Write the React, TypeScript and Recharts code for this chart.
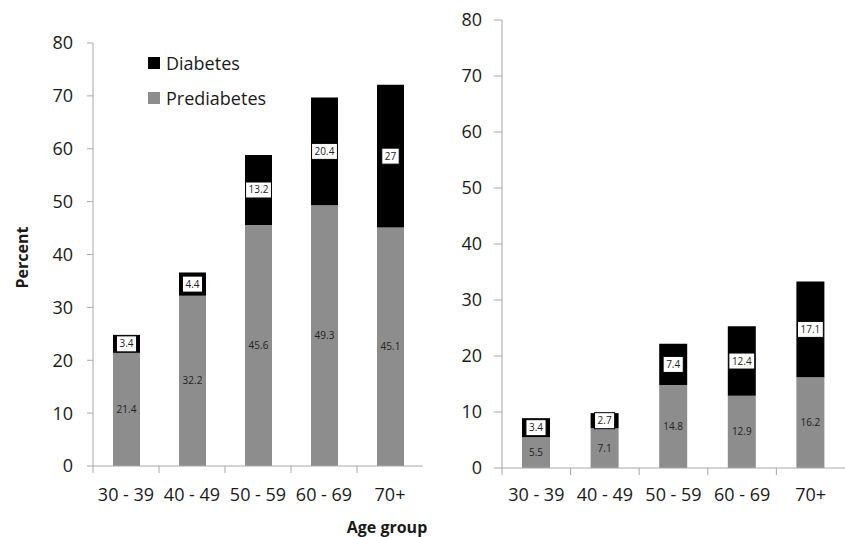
import React from 'react';
import { BarChart, Bar, XAxis, YAxis, LabelList, Legend } from 'recharts';

const ageGroups = ['30 - 39', '40 - 49', '50 - 59', '60 - 69', '70+'];
const leftPrediabetes = [21.4, 32.2, 45.6, 49.3, 45.1];
const leftDiabetes = [3.4, 4.4, 13.2, 20.4, 27];
const rightPrediabetes = [5.5, 7.1, 14.8, 12.9, 16.2];
const rightDiabetes = [3.4, 2.7, 7.4, 12.4, 17.1];
const yTicks = [0, 10, 20, 30, 40, 50, 60, 70, 80];
const legendOrder = ['Diabetes', 'Prediabetes'];

const leftData = ageGroups.map((g, i) => ({ group: g, prediabetes: leftPrediabetes[i], diabetes: leftDiabetes[i] }));
const rightData = ageGroups.map((g, i) => ({ group: g, prediabetes: rightPrediabetes[i], diabetes: rightDiabetes[i] }));

const FONT = '"Open Sans", sans-serif';
const AXIS = '#a8a8a8';
const GRAY = '#8d8d8d';
const TEXT = '#1a1a1a';

const textWidth = (s: string, fs: number) => {
  let w = 0;
  for (const c of s) w += c === '.' ? 0.27 : 0.572;
  return w * fs;
};

const DiabetesLabel = (props: any) => {
  const { x, y, width, height, value } = props;
  const s = String(value);
  const fs = 10;
  const w = textWidth(s, fs) + 6;
  const h = 16;
  const cx = x + width / 2;
  const cy = y + height / 2;
  return (
    <g>
      <rect x={cx - w / 2} y={cy - h / 2} width={w} height={h} fill="#fff" stroke="#000" strokeWidth={1} />
      <text x={cx} y={cy} dy="0.35em" textAnchor="middle" fontSize={fs} fill="#222" fontFamily={FONT}>
        {s}
      </text>
    </g>
  );
};

const makeTick = (bw: number, dy: number) => (props: any) => {
  const { x, y, payload } = props;
  return (
    <g>
      <line x1={x - bw / 2} x2={x - bw / 2} y1={y} y2={y + 7} stroke={AXIS} strokeWidth={1} />
      <text x={x} y={y + dy} textAnchor="middle" fontSize={18} fill={TEXT} fontFamily={FONT}>
        {payload.value}
      </text>
    </g>
  );
};

const LegendContent = (props: any) => {
  const items = [...(props.payload || [])].sort(
    (a: any, b: any) => legendOrder.indexOf(a.value) - legendOrder.indexOf(b.value)
  );
  return (
    <div style={{ fontFamily: FONT }}>
      {items.map((it: any) => (
        <div key={it.value} style={{ display: 'flex', alignItems: 'center', height: 35 }}>
          <div style={{ width: 12, height: 12, background: it.color, marginRight: 6 }} />
          <span style={{ fontSize: 18, color: TEXT }}>{it.value}</span>
        </div>
      ))}
    </div>
  );
};

const PercentLabel = (props: any) => {
  const vb = props.viewBox || {};
  const cx = vb.x + 22;
  const cy = vb.y + vb.height / 2 + 3;
  return (
    <text x={cx} y={cy} transform={`rotate(-90, ${cx}, ${cy})`} textAnchor="middle" dy="0.35em" fontSize={16} fontWeight="bold" fill={TEXT} fontFamily={FONT}>
      Percent
    </text>
  );
};

const AgeLabel = (props: any) => {
  const vb = props.viewBox || {};
  const cx = vb.x + vb.width / 2 + 129;
  const cy = vb.y + 61;
  return (
    <text x={cx} y={cy} dy="0.35em" textAnchor="middle" fontSize={16} fontWeight="bold" fill={TEXT} fontFamily={FONT}>
      Age group
    </text>
  );
};

export default function App() {
  return (
    <div style={{ position: 'absolute', left: 0, top: 0, width: 845, height: 537, background: '#fff', fontFamily: FONT, overflow: 'hidden' }}>
      <div style={{ position: 'absolute', left: 0, top: 0 }}>
        <BarChart width={440} height={537} data={leftData} margin={{ top: 43, right: 17, bottom: 0, left: 0 }} barSize={27}>
          <XAxis
            dataKey="group"
            height={71}
            tickSize={0}
            tickMargin={0}
            tickLine={false}
            axisLine={{ stroke: AXIS }}
            tick={makeTick(66, 35)}
            interval={0}
            label={<AgeLabel />}
          />
          <YAxis
            width={93}
            domain={[0, 80]}
            ticks={yTicks}
            tickSize={6}
            tickMargin={14}
            axisLine={{ stroke: AXIS }}
            tickLine={{ stroke: AXIS }}
            tick={{ fontSize: 18, fill: TEXT, fontFamily: FONT }}
            label={<PercentLabel />}
          />
          <Legend
            layout="vertical"
            align="center"
            verticalAlign="middle"
            wrapperStyle={{ left: 148, top: 45, width: 'auto' }}
            content={<LegendContent />}
          />
          <Bar dataKey="prediabetes" name="Prediabetes" stackId="a" fill={GRAY} isAnimationActive={false}>
            <LabelList dataKey="prediabetes" position="center" fontSize={10} fill="#222" fontFamily={FONT} />
          </Bar>
          <Bar dataKey="diabetes" name="Diabetes" stackId="a" fill="#000" isAnimationActive={false}>
            <LabelList dataKey="diabetes" content={<DiabetesLabel />} />
          </Bar>
        </BarChart>
      </div>
      <div style={{ position: 'absolute', left: 425, top: 0 }}>
        <BarChart width={420} height={537} data={rightData} margin={{ top: 20, right: 0, bottom: 0, left: 0 }} barSize={28}>
          <XAxis
            dataKey="group"
            height={69}
            tickSize={0}
            tickMargin={0}
            tickLine={false}
            axisLine={{ stroke: AXIS }}
            tick={makeTick(343 / 5, 33)}
            interval={0}
          />
          <YAxis
            width={77}
            domain={[0, 80]}
            ticks={yTicks}
            tickSize={8}
            tickMargin={12}
            axisLine={{ stroke: AXIS }}
            tickLine={{ stroke: AXIS }}
            tick={{ fontSize: 18, fill: TEXT, fontFamily: FONT }}
          />
          <Bar dataKey="prediabetes" name="Prediabetes" stackId="a" fill={GRAY} isAnimationActive={false}>
            <LabelList dataKey="prediabetes" position="center" fontSize={10} fill="#222" fontFamily={FONT} />
          </Bar>
          <Bar dataKey="diabetes" name="Diabetes" stackId="a" fill="#000" isAnimationActive={false}>
            <LabelList dataKey="diabetes" content={<DiabetesLabel />} />
          </Bar>
        </BarChart>
      </div>
    </div>
  );
}
